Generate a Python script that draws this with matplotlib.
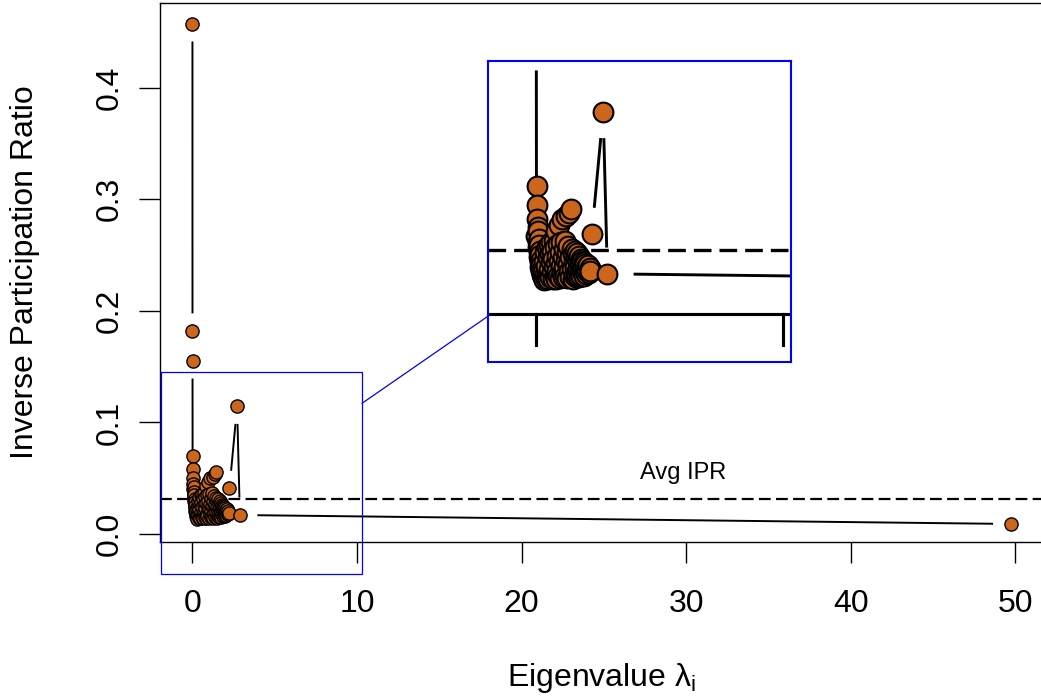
import numpy as np
import matplotlib
matplotlib.use("Agg")
import matplotlib.pyplot as plt
from matplotlib.collections import LineCollection
from matplotlib.patches import Rectangle, ConnectionPatch

# ---------------- data ----------------
eigenvalues = [0.000, 0.002, 0.004, 0.010, 0.020, 0.030, 0.050, 0.060, 0.070, 0.080,
               0.090, 0.100, 0.110, 0.120, 0.130, 0.140, 0.150, 0.160, 0.170, 0.180,
               0.190, 0.200, 0.220, 0.240, 0.260, 0.280,
               0.30, 0.32, 0.34, 0.36, 0.38, 0.40, 0.42, 0.44, 0.46, 0.48,
               0.50, 0.52, 0.54, 0.56, 0.58, 0.60, 0.62, 0.64, 0.66, 0.68,
               0.70, 0.72, 0.74, 0.76, 0.78, 0.80, 0.82, 0.84, 0.86, 0.88,
               0.90, 0.92, 0.94, 0.96, 0.98, 1.00, 1.02, 1.04, 1.06, 1.08,
               1.10, 1.12, 1.14, 1.16, 1.18, 1.20, 1.22, 1.24, 1.26, 1.28,
               1.30, 1.32, 1.34, 1.36, 1.38, 1.41, 1.43, 1.45, 1.47, 1.49,
               1.51, 1.53, 1.55, 1.57, 1.59, 1.61, 1.63, 1.65, 1.67, 1.69,
               1.71, 1.73, 1.75, 1.77, 1.79, 1.81, 1.83, 1.85, 1.87, 1.89,
               1.91, 1.93, 1.95, 1.97, 1.99, 2.01, 2.04, 2.07, 2.10, 2.13,
               2.16, 2.19, 2.25, 2.71, 2.88, 49.70]
ipr = [0.4570, 0.1820, 0.1550, 0.0400, 0.0697, 0.0585, 0.0500, 0.0450, 0.0360, 0.0425,
       0.0330, 0.0380, 0.0300, 0.0345, 0.0270, 0.0310, 0.0240, 0.0285, 0.0210, 0.0255,
       0.0185, 0.0225, 0.0165, 0.0200, 0.0150, 0.0180,
       0.0135, 0.0250, 0.0170, 0.0300, 0.0140, 0.0220, 0.0330, 0.0160, 0.0270, 0.0140,
       0.0345, 0.0200, 0.0290, 0.0150, 0.0240, 0.0360, 0.0180, 0.0310, 0.0140, 0.0260,
       0.0370, 0.0210, 0.0155, 0.0330, 0.0235, 0.0430, 0.0140, 0.0280, 0.0190, 0.0350,
       0.0160, 0.0250, 0.0465, 0.0300, 0.0145, 0.0220, 0.0360, 0.0175, 0.0500, 0.0270,
       0.0150, 0.0320, 0.0210, 0.0370, 0.0160, 0.0250, 0.0515, 0.0300, 0.0145, 0.0230,
       0.0340, 0.0185, 0.0535, 0.0270, 0.0150, 0.0558, 0.0320, 0.0200, 0.0140, 0.0290,
       0.0240, 0.0165, 0.0310, 0.0210, 0.0150, 0.0270, 0.0190, 0.0295, 0.0160, 0.0245,
       0.0200, 0.0275, 0.0150, 0.0230, 0.0180, 0.0260, 0.0160, 0.0220, 0.0250, 0.0175,
       0.0210, 0.0240, 0.0160, 0.0200, 0.0230, 0.0170, 0.0215, 0.0185, 0.0225, 0.0175,
       0.0205, 0.0190, 0.0410, 0.1143, 0.0170, 0.0090]
avg_ipr = 0.0313
avg_label = "Avg IPR"
avg_label_x = 29.8
avg_label_y = 0.055

x_ticks = [0, 10, 20, 30, 40, 50]
x_tick_labels = ["0", "10", "20", "30", "40", "50"]
y_ticks = [0.0, 0.1, 0.2, 0.3, 0.4]
y_tick_labels = ["0.0", "0.1", "0.2", "0.3", "0.4"]
x_label = r"Eigenvalue $\mathregular{\lambda_i}$"
y_label = "Inverse Participation Ratio"

# zoomed region (data units of the main plot)
zoom_xlim = (-1.94, 10.30)
zoom_ylim = (-0.0358, 0.1449)

# ---------------- style ----------------
plt.rcParams["font.family"] = ["Liberation Sans", "DejaVu Sans"]
plt.rcParams["mathtext.fontset"] = "custom"
plt.rcParams["mathtext.rm"] = "Liberation Sans"
plt.rcParams["mathtext.it"] = "Liberation Sans:italic"

POINT_FILL = "#CC661D"
W, H, DPI = 1041, 696, 100
fig = plt.figure(figsize=(W / DPI, H / DPI), dpi=DPI)
fig.patch.set_facecolor("white")

ax = fig.add_axes([159.7 / W, 1 - 541.7 / H, 883.6 / W, 538.4 / H])
ax.set_xlim(-1.99, 51.69)
ax.set_ylim(-0.0069, 0.4755)


def gapped_segments(axis, xs, ys, gap_px):
    """Segments between consecutive points, shortened near each point (R type='b')."""
    pts = axis.transData.transform(np.column_stack([xs, ys]))
    inv = axis.transData.inverted()
    segs = []
    for a, b in zip(pts[:-1], pts[1:]):
        d = b - a
        L = np.hypot(d[0], d[1])
        if L <= 2 * gap_px:
            continue
        u = d / L
        segs.append(inv.transform(np.array([a + u * gap_px, b - u * gap_px])))
    return segs


def draw_series(axis, scale):
    segs = gapped_segments(axis, eigenvalues, ipr, 17.5 * scale)
    axis.add_collection(LineCollection(segs, colors="black", linewidths=1.4 * scale,
                                       zorder=2, capstyle="butt"))
    axis.plot(eigenvalues, ipr, linestyle="none", marker="o", ms=9.5 * scale,
              mfc=POINT_FILL, mec="black", mew=1.0 * scale, zorder=3)
    axis.axhline(avg_ipr, color="black", lw=1.6 * scale,
                 linestyle=(0, (5.3, 2.4)), zorder=1.5)


draw_series(ax, 1.0)
ax.text(avg_label_x, avg_label_y, avg_label, fontsize=17, ha="center", va="center")

ax.set_xticks(x_ticks)
ax.set_xticklabels(x_tick_labels)
ax.set_yticks(y_ticks)
ax.set_yticklabels(y_tick_labels, rotation=90, va="center", ha="right")
ax.tick_params(axis="both", direction="out", length=15, width=1.0, labelsize=23,
               color="black")
ax.tick_params(axis="x", pad=19)
ax.tick_params(axis="y", pad=10)
for s in ax.spines.values():
    s.set_linewidth(1.0)
    s.set_color("black")

ax.set_xlabel(x_label, fontsize=23)
ax.xaxis.set_label_coords(0.5, (541.7 - 686) / 538.4)
ax.xaxis.label.set_verticalalignment("baseline")
ax.set_ylabel(y_label, fontsize=23)
ax.yaxis.set_label_coords((25 - 159.7) / 883.6, 0.5)
ax.yaxis.label.set_verticalalignment("center")

# rectangle marking the zoomed region
ax.add_patch(Rectangle((zoom_xlim[0], zoom_ylim[0]), zoom_xlim[1] - zoom_xlim[0],
                       zoom_ylim[1] - zoom_ylim[0], fill=False, ec="blue", lw=0.9,
                       clip_on=False, zorder=4))

# ---------------- inset (1.5x magnification) ----------------
ins = fig.add_axes([488.3 / W, 1 - 361.7 / H, 302.4 / W, 300.7 / H])
ins.set_facecolor("white")
ins.set_xlim(*zoom_xlim)
ins.set_ylim(*zoom_ylim)
ins.set_xticks([])
ins.set_yticks([])
for s in ins.spines.values():
    s.set_color("blue")
    s.set_linewidth(1.5)
draw_series(ins, 1.5)

# main-plot frame bottom and tick marks as seen inside the magnified region
px_per_unit_y = ax.transData.transform((0, 1))[1] - ax.transData.transform((0, 0))[1]
tick_len_units = (15 * DPI / 72) / px_per_unit_y
y_frame = ax.get_ylim()[0]
ins.axhline(y_frame, color="black", lw=1.5 * 1.5, zorder=2)
for xt in x_ticks:
    if zoom_xlim[0] < xt < zoom_xlim[1]:
        ins.plot([xt, xt], [y_frame, y_frame - tick_len_units], color="black",
                 lw=1.5 * 1.5, zorder=2)

# connector line from region box to inset
con = ConnectionPatch(
    xyA=(zoom_xlim[1], zoom_ylim[0] + 0.846 * (zoom_ylim[1] - zoom_ylim[0])),
    coordsA=ax.transData, xyB=(0.0, 0.152), coordsB=ins.transAxes,
    color="blue", lw=0.9)
fig.add_artist(con)

fig.savefig("out.png", dpi=DPI, facecolor="white")
